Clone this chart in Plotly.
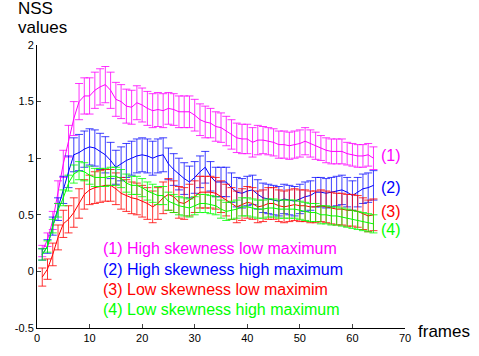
import plotly.graph_objects as go

frames = list(range(1, 65))

nss_1 = [0.18, 0.28, 0.45, 0.70, 0.95, 1.15, 1.35, 1.50, 1.55, 1.55,
         1.60, 1.63, 1.65, 1.60, 1.52, 1.50, 1.46, 1.45, 1.49, 1.47,
         1.44, 1.42, 1.43, 1.42, 1.44, 1.43, 1.41, 1.41, 1.41, 1.38,
         1.34, 1.32, 1.31, 1.28, 1.27, 1.24, 1.21, 1.18, 1.17, 1.17,
         1.14, 1.16, 1.16, 1.15, 1.14, 1.12, 1.12, 1.11, 1.12, 1.13,
         1.15, 1.13, 1.11, 1.09, 1.07, 1.06, 1.06, 1.06, 1.04, 1.03,
         1.02, 1.02, 1.03, 1.00]
err_1 = [0.05, 0.06, 0.08, 0.10, 0.12, 0.14, 0.15, 0.16, 0.16, 0.16,
         0.16, 0.16, 0.16, 0.16, 0.15, 0.15, 0.15, 0.15, 0.15, 0.15,
         0.15, 0.15, 0.15, 0.15, 0.14, 0.14, 0.14, 0.14, 0.14, 0.14,
         0.14, 0.14, 0.13, 0.13, 0.13, 0.13, 0.13, 0.13, 0.13, 0.13,
         0.13, 0.13, 0.12, 0.12, 0.12, 0.12, 0.12, 0.12, 0.12, 0.12,
         0.12, 0.12, 0.12, 0.11, 0.11, 0.11, 0.11, 0.11, 0.10, 0.10,
         0.10, 0.10, 0.10, 0.10]

nss_2 = [0.15, 0.22, 0.40, 0.55, 0.72, 0.88, 1.03, 1.05, 1.08, 1.10,
         1.09, 1.06, 1.03, 0.98, 0.92, 0.95, 0.98, 1.00, 1.02, 1.03,
         1.02, 1.00, 1.02, 1.03, 0.95, 0.90, 0.86, 0.82, 0.79, 0.83,
         0.88, 0.92, 0.84, 0.79, 0.79, 0.79, 0.74, 0.70, 0.69, 0.71,
         0.72, 0.68, 0.65, 0.64, 0.63, 0.62, 0.64, 0.63, 0.62, 0.64,
         0.66, 0.67, 0.70, 0.70, 0.69, 0.70, 0.71, 0.72, 0.70, 0.67,
         0.70, 0.73, 0.74, 0.76]
err_2 = [0.05, 0.06, 0.08, 0.10, 0.12, 0.14, 0.15, 0.16, 0.16, 0.16,
         0.16, 0.16, 0.16, 0.16, 0.15, 0.15, 0.15, 0.15, 0.15, 0.15,
         0.15, 0.15, 0.15, 0.15, 0.14, 0.14, 0.14, 0.14, 0.14, 0.14,
         0.14, 0.14, 0.13, 0.13, 0.13, 0.13, 0.13, 0.13, 0.13, 0.13,
         0.13, 0.13, 0.13, 0.13, 0.13, 0.13, 0.13, 0.13, 0.13, 0.13,
         0.13, 0.13, 0.13, 0.13, 0.13, 0.13, 0.13, 0.13, 0.13, 0.13,
         0.13, 0.13, 0.13, 0.13]

nss_3 = [-0.05, 0.02, 0.15, 0.30, 0.42, 0.46, 0.52, 0.60, 0.68, 0.72,
         0.74, 0.75, 0.76, 0.76, 0.73, 0.69, 0.67, 0.65, 0.64, 0.62,
         0.60, 0.57, 0.60, 0.65, 0.68, 0.66, 0.61, 0.60, 0.63, 0.66,
         0.70, 0.70, 0.70, 0.69, 0.66, 0.63, 0.60, 0.57, 0.59, 0.61,
         0.60, 0.57, 0.58, 0.60, 0.60, 0.58, 0.57, 0.58, 0.59, 0.58,
         0.58, 0.57, 0.57, 0.58, 0.57, 0.56, 0.55, 0.55, 0.54, 0.54,
         0.53, 0.51, 0.49, 0.50]
err_3 = [0.08, 0.09, 0.10, 0.11, 0.12, 0.12, 0.13, 0.13, 0.13, 0.13,
         0.14, 0.14, 0.14, 0.14, 0.14, 0.14, 0.14, 0.14, 0.14, 0.14,
         0.14, 0.14, 0.14, 0.14, 0.14, 0.14, 0.14, 0.14, 0.14, 0.14,
         0.14, 0.14, 0.14, 0.14, 0.14, 0.14, 0.14, 0.14, 0.14, 0.14,
         0.14, 0.14, 0.14, 0.14, 0.14, 0.14, 0.14, 0.14, 0.14, 0.14,
         0.14, 0.14, 0.14, 0.14, 0.14, 0.14, 0.14, 0.14, 0.14, 0.14,
         0.14, 0.14, 0.14, 0.14]

nss_4 = [0.15, 0.22, 0.40, 0.54, 0.65, 0.78, 0.86, 0.89, 0.88, 0.85,
         0.83, 0.83, 0.83, 0.84, 0.84, 0.82, 0.78, 0.76, 0.76, 0.74,
         0.71, 0.69, 0.67, 0.67, 0.62, 0.60, 0.58, 0.57, 0.56, 0.58,
         0.60, 0.60, 0.59, 0.58, 0.55, 0.53, 0.54, 0.55, 0.57, 0.57,
         0.56, 0.55, 0.55, 0.56, 0.56, 0.55, 0.55, 0.55, 0.55, 0.54,
         0.53, 0.52, 0.52, 0.50, 0.50, 0.49, 0.49, 0.48, 0.47, 0.46,
         0.45, 0.44, 0.43, 0.42]
err_4 = [0.05, 0.05, 0.06, 0.06, 0.07, 0.07, 0.08, 0.08, 0.08, 0.08,
         0.08, 0.08, 0.08, 0.08, 0.08, 0.08, 0.08, 0.08, 0.08, 0.08,
         0.08, 0.08, 0.08, 0.08, 0.08, 0.08, 0.08, 0.08, 0.08, 0.08,
         0.08, 0.08, 0.08, 0.08, 0.08, 0.08, 0.08, 0.08, 0.08, 0.08,
         0.08, 0.08, 0.08, 0.08, 0.08, 0.08, 0.08, 0.08, 0.08, 0.08,
         0.08, 0.08, 0.08, 0.08, 0.08, 0.08, 0.08, 0.08, 0.08, 0.08,
         0.08, 0.08, 0.08, 0.08]

series_names = ["(1) High skewness low maximum",
                "(2) High skewness high maximum",
                "(3) Low skewness low maximim",
                "(4) Low skewness high maximum"]
short_labels = ["(1)", "(2)", "(3)", "(4)"]
colors = ["#FF00FF", "#0000FF", "#FF0000", "#00FF00"]
err_colors = ["rgba(255,0,255,0.8)", "rgba(0,0,255,0.75)",
              "rgba(255,0,0,0.8)", "rgba(0,255,0,0.8)"]

x_ticks = [0, 10, 20, 30, 40, 50, 60, 70]
y_ticks = [-0.5, 0, 0.5, 1, 1.5, 2]
y_tick_text = ["-0.5", "0", "0.5", "1", "1.5", "2"]

FONT = "Liberation Sans, Arial, sans-serif"

fig = go.Figure()
for vals, errs, c, ec, name in zip([nss_1, nss_2, nss_3, nss_4],
                                   [err_1, err_2, err_3, err_4],
                                   colors, err_colors, series_names):
    fig.add_trace(go.Scatter(
        x=frames, y=vals, mode="lines", name=name,
        line=dict(color=c, width=1),
        error_y=dict(type="data", array=errs, visible=True,
                     color=ec, thickness=1, width=4),
        showlegend=False))

# in-plot legend text
legend_y = [0.20, 0.018, -0.163, -0.337]
for name, c, yy in zip(series_names, colors, legend_y):
    fig.add_annotation(x=12.17, y=yy, xref="x", yref="y", text=name,
                       showarrow=False, xanchor="left", yanchor="middle",
                       font=dict(family=FONT, size=16, color=c))

# right-side labels
right_y = [1.02, 0.745, 0.53, 0.37]
for lab, c, yy in zip(short_labels, colors, right_y):
    fig.add_annotation(x=65.0, y=yy, xref="x", yref="y", text=lab,
                       showarrow=False, xanchor="left", yanchor="middle",
                       font=dict(family=FONT, size=16, color=c))

# axis titles
fig.add_annotation(x=-0.058, y=1.13, xref="paper", yref="paper", text="NSS",
                   showarrow=False, xanchor="left", yanchor="middle",
                   font=dict(family=FONT, size=17, color="black"))
fig.add_annotation(x=-0.058, y=1.062, xref="paper", yref="paper", text="values",
                   showarrow=False, xanchor="left", yanchor="middle",
                   font=dict(family=FONT, size=17, color="black"))
fig.add_annotation(x=1.03, y=-0.012, xref="paper", yref="paper", text="frames",
                   showarrow=False, xanchor="left", yanchor="middle",
                   font=dict(family=FONT, size=17, color="black"))

fig.update_layout(
    width=479, height=356,
    margin=dict(l=37, r=74, t=45, b=22),
    paper_bgcolor="white", plot_bgcolor="white",
    font=dict(family=FONT, size=11, color="black"),
    showlegend=False,
)
fig.update_xaxes(range=[0, 70], tickvals=x_ticks, ticks="inside", ticklen=4,
                 showline=True, linecolor="black", linewidth=1, mirror=False,
                 showgrid=False, zeroline=False,
                 tickfont=dict(family=FONT, size=11, color="black"))
fig.update_yaxes(range=[-0.5, 2], tickvals=y_ticks, ticktext=y_tick_text,
                 ticks="inside", ticklen=4,
                 showline=True, linecolor="black", linewidth=1, mirror=False,
                 showgrid=False, zeroline=False,
                 tickfont=dict(family=FONT, size=11, color="black"))

fig.write_html("out.html")
